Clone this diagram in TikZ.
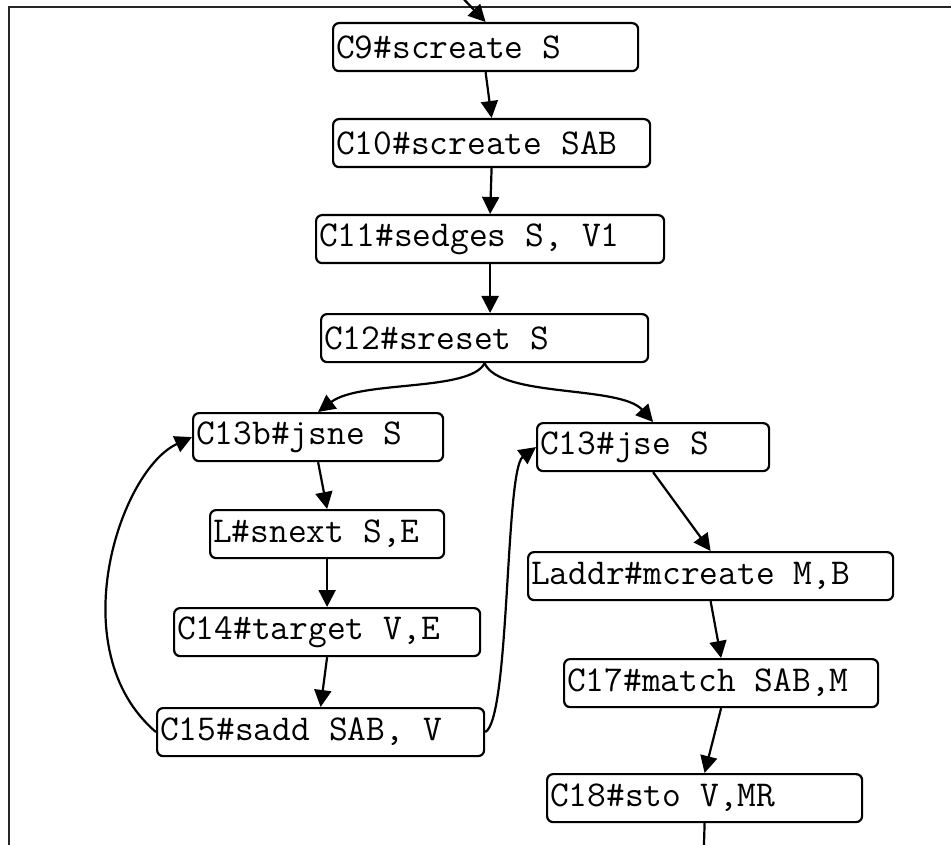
\documentclass[tikz,border=0pt]{standalone}
\usepackage{fontspec}
\usetikzlibrary{arrows.meta}
\newcommand\msp{\hspace*{0.525em}}
\tikzset{
  box/.style={draw, rounded corners=6pt, line width=2.2pt,
    font=\fontsize{36.4}{40}\selectfont\ttfamily,
    inner xsep=3pt, inner ysep=0pt, minimum height=48pt,
    text width=#1-6pt, align=left, anchor=north west},
  arr/.style={line width=2.2pt, -{Triangle[length=17pt,width=17pt]}},
  plain/.style={line width=2.2pt}
}
\begin{document}
\begin{tikzpicture}[x=1pt,y=-1pt]
\useasboundingbox (0,0) rectangle (951,845);
\clip (0,0) rectangle (951,845);
\fill[white] (0,0) rectangle (951,845);
\draw[line width=2.6pt, black!85] (9,860) -- (9,7) -- (970,7);

\node[box=305pt] (C9)   at (332,22)  {C9\#screate\msp S};
\node[box=317pt] (C10)  at (332,118) {C10\#screate\msp SAB};
\node[box=348pt] (C11)  at (315,214) {C11\#sedges\msp S,\msp V1};
\node[box=327pt] (C12)  at (320,313) {C12\#sreset\msp S};
\node[box=250pt] (C13b) at (192,412) {C13b\#jsne\msp S};
\node[box=232pt] (C13)  at (536,422) {C13\#jse\msp S};
\node[box=234pt] (L)    at (209,509) {L\#snext\msp S,E};
\node[box=306pt] (C14)  at (173,607) {C14\#target\msp V,E};
\node[box=327pt] (C15)  at (156,707) {C15\#sadd\msp SAB,\msp V};
\node[box=365pt] (LA)   at (527,551) {Laddr\#mcreate\msp M,B};
\node[box=314pt] (C17)  at (563,658) {C17\#match\msp SAB,M};
\node[box=315pt] (C18)  at (546,773) {C18\#sto\msp V,MR};

\coordinate (in) at (455,-10);
\coordinate (out) at (703.5,860);

\draw[arr] (in) -- (C9.north);
\draw[arr] (C9.south) -- (C10.north);
\draw[arr] (C10.south) -- (C11.north);
\draw[arr] (C11.south) -- (C11.south |- C12.north);
\draw[arr] (C12.south) .. controls (470,392) and (360,380) .. (C13b.north);
\draw[arr] (C12.south) .. controls (500,398) and (620,385) .. (C13.north);
\draw[arr] (C13b.south) -- (L.north);
\draw[arr] (L.south) -- (C14.north);
\draw[arr] (C14.south) -- (C15.north);
\draw[arr] (C15.west) .. controls (60,650) and (120,470) .. (C13b.west);
\draw[arr] (C15.east) .. controls (510,720) and (505,470) .. (C13.west);
\draw[arr] (C13.south) -- (LA.north);
\draw[arr] (LA.south) -- (C17.north);
\draw[arr] (C17.south) -- (C18.north);
\draw[plain] (C18.south) -- (out);
\end{tikzpicture}
\end{document}
